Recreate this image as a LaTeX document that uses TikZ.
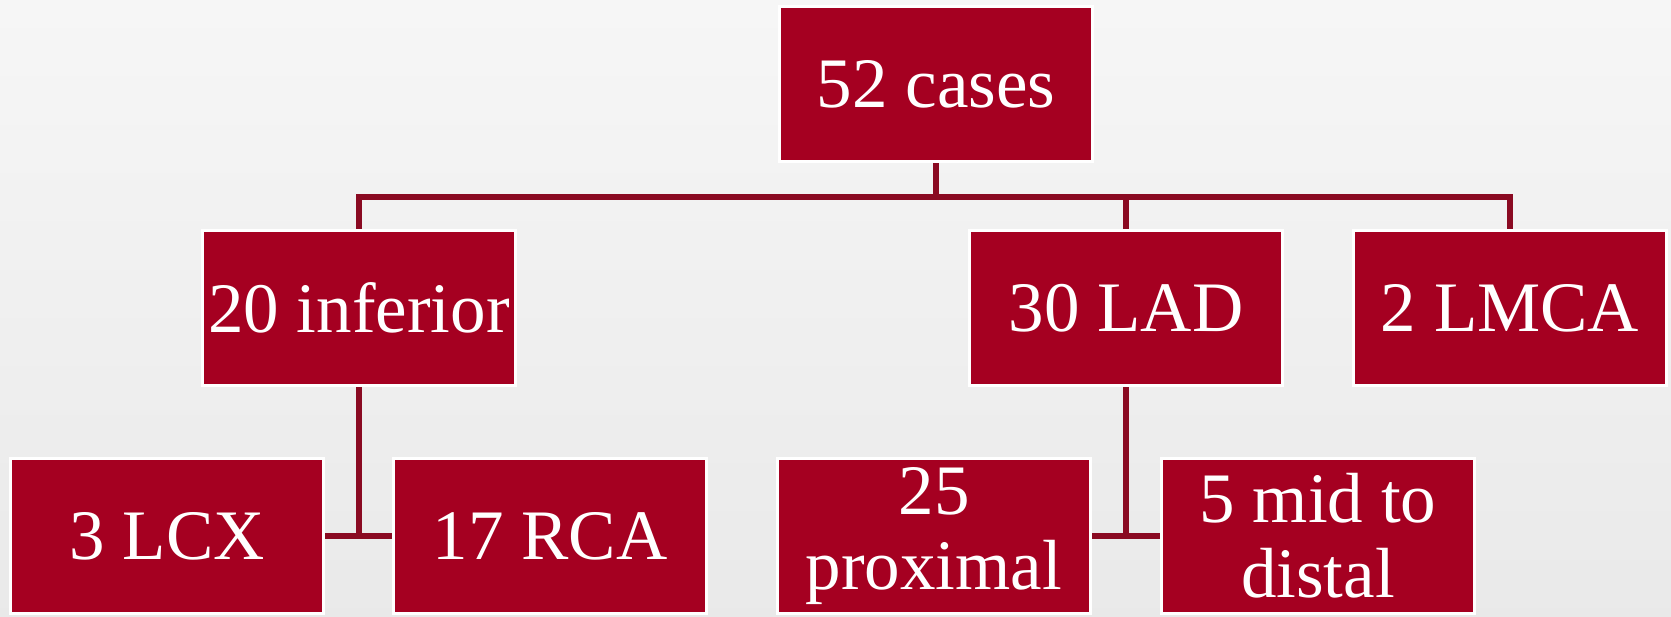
\documentclass[tikz,border=0pt]{standalone}
\usepackage{fontspec}
\setmainfont{Liberation Serif}
\usetikzlibrary{positioning}
\definecolor{boxred}{HTML}{A50021}
\definecolor{linkred}{HTML}{8A0A22}
\tikzset{
  box/.style={rectangle, fill=boxred, draw=white, line width=3pt, text=white,
    minimum width=313pt, minimum height=155pt, inner sep=0pt, align=center,
    font=\fontsize{71}{75}\selectfont},
  link/.style={draw=linkred, line width=5.5pt}
}
\begin{document}
\begin{tikzpicture}[x=1pt,y=-1pt]
  \shade[top color=gray!7, bottom color=gray!17] (0,0) rectangle (1671,616);
  \useasboundingbox (0,0) rectangle (1671,616);

  \node[box] (cases) at (936,84)   {52 cases};
  \node[box] (inf)   at (359,308)  {20 inferior};
  \node[box] (lad)   at (1126,308) {30 LAD};
  \node[box] (lmca)  at (1510,308) {2 LMCA};
  \node[box] (lcx)   at (167,536)  {3 LCX};
  \node[box] (rca)   [right=67pt of lcx]  {17 RCA};
  \node[box] (prox)  at (934,536)  {25\\proximal};
  \node[box] (mid)   [right=68pt of prox] {5 mid to\\distal};

  \draw[link] (cases.south) -- ++(0,34) -| (inf.north)
              (cases.south) -- ++(0,34) -| (lad.north)
              (cases.south) -- ++(0,34) -| (lmca.north);
  \draw[link] (inf.south) |- (lcx.east)
              (inf.south) |- (rca.west);
  \draw[link] (lad.south) |- (prox.east)
              (lad.south) |- (mid.west);
\end{tikzpicture}
\end{document}
